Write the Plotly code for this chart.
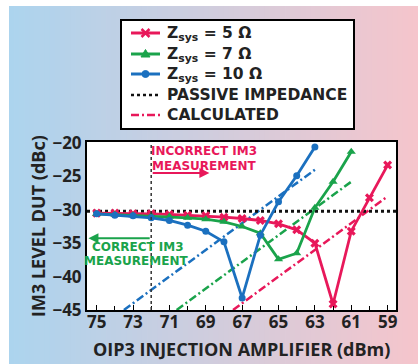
import plotly.graph_objects as go

# ---- data ----
x_vals = [75, 74, 73, 72, 71, 70, 69, 68, 67, 66, 65, 64, 63, 62, 61, 60, 59]
z5 = [-30.5, -30.5, -30.6, -30.6, -30.7, -30.8, -30.9, -31.1, -31.3, -31.6, -32.1, -33.0, -35.0, -44.1, -33.2, -28.2, -23.3]
x_z7 = [75, 74, 73, 72, 71, 70, 69, 68, 67, 66, 65, 64, 63, 62, 61]
z7 = [-30.6, -30.7, -30.8, -30.9, -31.0, -31.2, -31.4, -31.8, -32.5, -33.5, -37.4, -36.5, -29.7, -25.8, -21.3]
x_z10 = [75, 74, 73, 72, 71, 70, 69, 68, 67, 66, 65, 64, 63]
z10 = [-30.6, -30.8, -30.9, -31.2, -31.6, -32.3, -33.2, -34.8, -43.2, -33.8, -28.8, -24.9, -20.6]
passive_x = [75.53, 58.54]
passive_y = [-30.2, -30.2]
calc5_x = [67.5, 59.0]
calc5_y = [-45.0, -28.0]
calc7_x = [70.6, 61.0]
calc7_y = [-45.0, -25.8]
calc10_x = [73.5, 63.0]
calc10_y = [-45.0, -24.0]
x_ticks = [75, 73, 71, 69, 67, 65, 63, 61, 59]
y_ticks = [-45, -40, -35, -30, -25, -20]
legend_labels = ["Z<sub>sys</sub> = 5 Ω", "Z<sub>sys</sub> = 7 Ω", "Z<sub>sys</sub> = 10 Ω",
                 "PASSIVE IMPEDANCE", "CALCULATED"]

RED = "#e8185a"
GREEN = "#1aa34b"
BLUE = "#1b70bf"
FONT = "Open Sans"
WFONT = "DejaVu Sans"
DD = "8px,3px,2px,3px"

fig = go.Figure()
fig.add_trace(go.Scatter(x=calc10_x, y=calc10_y, mode="lines", showlegend=False,
                         line=dict(color=BLUE, width=2.5, dash=DD)))
fig.add_trace(go.Scatter(x=calc7_x, y=calc7_y, mode="lines", showlegend=False,
                         line=dict(color=GREEN, width=2.5, dash=DD)))
fig.add_trace(go.Scatter(x=calc5_x, y=calc5_y, mode="lines", showlegend=False,
                         line=dict(color=RED, width=2.5, dash=DD)))
fig.add_trace(go.Scatter(x=passive_x, y=passive_y, mode="lines", showlegend=False,
                         line=dict(color="#111", width=3, dash="dot")))
fig.add_trace(go.Scatter(x=x_vals, y=z5, mode="lines+markers", name=legend_labels[0],
                         line=dict(color=RED, width=2.8),
                         marker=dict(symbol="x", size=8, color=RED)))
fig.add_trace(go.Scatter(x=x_z7, y=z7, mode="lines+markers", name=legend_labels[1],
                         line=dict(color=GREEN, width=2.8),
                         marker=dict(symbol="triangle-up", size=8, color=GREEN)))
fig.add_trace(go.Scatter(x=x_z10, y=z10, mode="lines+markers", name=legend_labels[2],
                         line=dict(color=BLUE, width=2.8),
                         marker=dict(symbol="circle", size=7, color=BLUE)))

# ---- pixel helpers ----
L, R, T, B = 87, 396, 142, 310
W, H = R - L, B - T
def px(p): return (p - L) / W
def py(p): return (B - p) / H

shapes = []
# background gradient
c0 = (172, 212, 238)
c1 = (245, 197, 204)
n = 80
xs, xe = 9, 418
for i in range(n):
    a = xs + (xe - xs) * i / n
    b = xs + (xe - xs) * (i + 1) / n + 0.8
    t = i / (n - 1)
    c = tuple(int(round(c0[k] + (c1[k] - c0[k]) * t)) for k in range(3))
    shapes.append(dict(type="rect", xref="paper", yref="paper", layer="below",
                       x0=px(a), x1=px(b), y0=py(364), y1=py(6),
                       fillcolor="rgb(%d,%d,%d)" % c, line=dict(width=0)))
shapes.append(dict(type="rect", xref="paper", yref="paper", layer="below",
                   x0=0, x1=1, y0=0, y1=1, fillcolor="white", line=dict(width=0)))
shapes.append(dict(type="line", xref="x", yref="paper", x0=72, x1=72, y0=0, y1=1,
                   line=dict(color="#333", width=1.5, dash="dot")))

# ---- manual legend ----
shapes.append(dict(type="rect", xref="paper", yref="paper", x0=px(121), x1=px(354),
                   y0=py(129), y1=py(20), fillcolor="white", line=dict(color="black", width=2)))
rows = [33, 54, 74, 95, 115]
sx0, sx1, mx = 131, 160, 145.5
styles = [dict(color=RED, width=3), dict(color=GREEN, width=3), dict(color=BLUE, width=3),
          dict(color="#111", width=2.5, dash="dot"), dict(color=RED, width=2.5, dash=DD)]
for r, st in zip(rows, styles):
    shapes.append(dict(type="line", xref="paper", yref="paper", x0=px(sx0), x1=px(sx1),
                       y0=py(r), y1=py(r), line=st))
r = rows[0]
shapes.append(dict(type="path", xref="paper", yref="paper",
                   path="M %f,%f L %f,%f M %f,%f L %f,%f" % (px(mx - 4), py(r - 4), px(mx + 4), py(r + 4),
                                                             px(mx - 4), py(r + 4), px(mx + 4), py(r - 4)),
                   line=dict(color=RED, width=2.5)))
r = rows[1]
shapes.append(dict(type="path", xref="paper", yref="paper",
                   path="M %f,%f L %f,%f L %f,%f Z" % (px(mx), py(r - 4.5), px(mx + 4.5), py(r + 3),
                                                      px(mx - 4.5), py(r + 3)),
                   fillcolor=GREEN, line=dict(color=GREEN, width=1)))
r = rows[2]
shapes.append(dict(type="circle", xref="paper", yref="paper", x0=px(mx - 3.5), x1=px(mx + 3.5),
                   y0=py(r + 3.5), y1=py(r - 3.5), fillcolor=BLUE, line=dict(color=BLUE, width=1)))

annotations = []
for lab, r in zip(legend_labels, rows):
    annotations.append(dict(x=px(165), y=py(r + 1 if "sub" in lab else r), xref="paper", yref="paper",
                            xanchor="left", yanchor="middle", text=lab, showarrow=False,
                            font=dict(family=WFONT, size=15.5, color="#222", weight="bold")))

def note(text, xpix, ypix, color):
    return dict(x=px(xpix), y=py(ypix), xref="paper", yref="paper", xanchor="center",
                yanchor="middle", text=text, showarrow=False,
                font=dict(family=WFONT, size=12, color=color, weight="bold"))

annotations += [
    note("INCORRECT IM3", 204, 151, RED),
    note("MEASUREMENT", 204, 165.5, RED),
    dict(x=68.8, y=-24.5, ax=72.0, ay=-24.5, xref="x", yref="y", axref="x", ayref="y",
         text="", showarrow=True, arrowhead=2, arrowsize=1, arrowwidth=2, arrowcolor=RED),
    note("CORRECT IM3", 138, 246.5, GREEN),
    note("MEASUREMENT", 136, 261, GREEN),
    dict(x=75.45, y=-34.25, ax=72.0, ay=-34.25, xref="x", yref="y", axref="x", ayref="y",
         text="", showarrow=True, arrowhead=2, arrowsize=1, arrowwidth=2, arrowcolor=GREEN),
    dict(x=px(38), y=py(226), xref="paper", yref="paper", textangle=-90,
         text="IM3 LEVEL DUT (dBc)", showarrow=False, xanchor="center", yanchor="middle",
         font=dict(family=FONT, size=18, color="#222", weight="bold")),
    dict(x=px(241), y=py(349), xref="paper", yref="paper",
         text="OIP3 INJECTION AMPLIFIER (dBm)", showarrow=False, xanchor="center", yanchor="middle",
         font=dict(family=FONT, size=18, color="#222", weight="bold")),
]

fig.update_layout(
    width=418, height=364,
    margin=dict(l=L, r=418 - R, t=T, b=364 - B),
    paper_bgcolor="white", plot_bgcolor="rgba(0,0,0,0)",
    font=dict(family=FONT, color="#222"),
    shapes=shapes, annotations=annotations,
    showlegend=False,
    xaxis=dict(range=[75.53, 58.54], tickvals=x_ticks, showgrid=False, zeroline=False,
               showline=True, linecolor="black", linewidth=2, mirror=True,
               ticks="inside", ticklen=5, tickcolor="black", ticklabelstandoff=-4,
               minor=dict(dtick=1, ticks="inside", ticklen=4, tickcolor="black"),
               tickfont=dict(family=FONT, size=17, color="#222", weight="bold")),
    yaxis=dict(range=[-45, -19.85], tickvals=y_ticks, showgrid=False, zeroline=False,
               showline=True, linecolor="black", linewidth=2, mirror=True,
               ticks="", tickfont=dict(family=FONT, size=17, color="#222", weight="bold")),
)

fig.write_html("out.html", config={"displayModeBar": False},
               post_script="document.body.style.margin='0';document.body.style.overflow='hidden';")
